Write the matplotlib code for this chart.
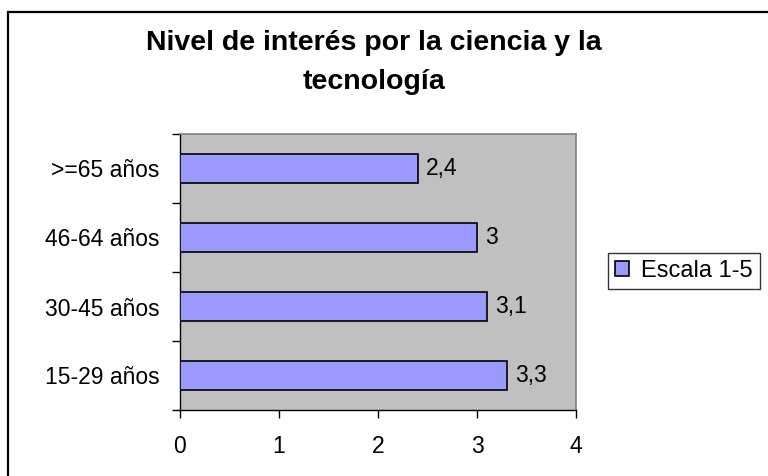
import matplotlib
matplotlib.use("Agg")
import matplotlib.pyplot as plt
from matplotlib.patches import Rectangle, Patch

plt.rcParams['font.family'] = ['Liberation Sans', 'DejaVu Sans']

categories = ["15-29 años", "30-45 años", "46-64 años", ">=65 años"]
values = [3.3, 3.1, 3.0, 2.4]
value_labels = ["3,3", "3,1", "3", "2,4"]
series_name = "Escala 1-5"
title_lines = ["Nivel de interés por la ciencia y la", "tecnología"]

W, H = 768, 476
FS = 16.5
fig = plt.figure(figsize=(W / 100, H / 100), dpi=100)
fig.patch.set_facecolor("white")

# figure border (clipped at right/bottom)
fig.patches.append(Rectangle((8 / W, -0.1), 1.2, 1 - 12 / H + 0.1, transform=fig.transFigure,
                             fill=False, edgecolor="black", linewidth=1.6, zorder=0))

ax = fig.add_axes([180 / W, (H - 410) / H, 396 / W, 276 / H])
ax.set_facecolor("#C0C0C0")

ypos = list(range(len(categories)))
ax.barh(ypos, values, height=0.41, color="#9999FF", edgecolor="black", linewidth=1.2, zorder=3)
for y, v, lab in zip(ypos, values, value_labels):
    ax.text(v + 0.085, y, lab, va="center", ha="left", fontsize=FS, color="black", zorder=4)

ax.set_xlim(0, 4)
ax.set_ylim(-0.5, len(categories) - 0.5)
ax.set_xticks([0, 1, 2, 3, 4])
ax.set_xticklabels(["0", "1", "2", "3", "4"], fontsize=FS)
ax.set_yticks([i - 0.5 for i in range(len(categories) + 1)])
ax.set_yticklabels([])
ax.set_yticks(ypos, minor=True)
ax.set_yticklabels(categories, minor=True, fontsize=FS)
ax.tick_params(axis="y", which="minor", length=0, pad=15)
ax.tick_params(axis="y", which="major", length=6, direction="out", width=1)
ax.tick_params(axis="x", length=6, direction="out", width=1, pad=12)

for s in ["top", "right"]:
    ax.spines[s].set_color("#808080")
    ax.spines[s].set_linewidth(1.2)
for s in ["left", "bottom"]:
    ax.spines[s].set_color("black")
    ax.spines[s].set_linewidth(1.0)

fig.text(374 / W, 1 - 50 / H, title_lines[0], ha="center", va="baseline", fontsize=20.5,
         fontweight="bold")
fig.text(374 / W, 1 - 89 / H, title_lines[1], ha="center", va="baseline", fontsize=20.5,
         fontweight="bold")

handle = Patch(facecolor="#9999FF", edgecolor="black", linewidth=1.2)
leg = fig.legend([handle], [series_name], loc="center left",
                 bbox_to_anchor=(608 / W, 1 - 271 / H), fontsize=FS + 0.5,
                 frameon=True, fancybox=False, edgecolor="black",
                 handlelength=0.6, handleheight=0.6, handletextpad=0.5,
                 borderpad=0.3, borderaxespad=0)
leg.get_frame().set_linewidth(1.0)

fig.savefig("out.png", dpi=100)
